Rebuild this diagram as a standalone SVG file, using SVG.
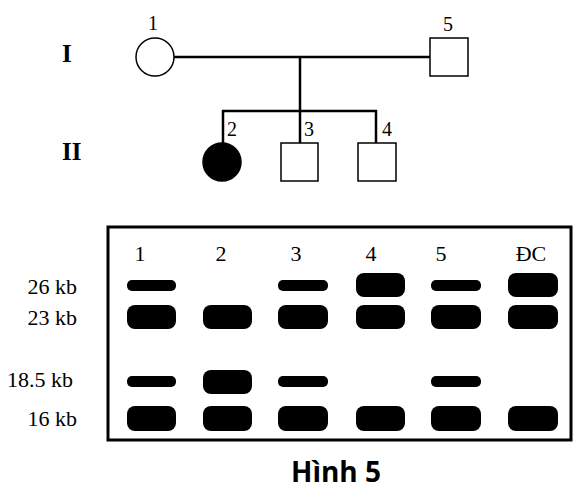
<svg xmlns="http://www.w3.org/2000/svg" width="583" height="495" viewBox="0 0 583 495">
<style>
.ln{stroke:#000;stroke-width:2.5;fill:none}
.sym{stroke:#000;stroke-width:1.5;fill:#fff}
.num{font-family:"Liberation Serif",serif;font-size:20px;fill:#000;text-anchor:middle}
.gen{font-family:"Liberation Serif",serif;font-size:25px;font-weight:bold;fill:#000}
.lbl{font-family:"Liberation Serif",serif;font-size:22px;fill:#000;text-anchor:end}
.lane{font-family:"Liberation Serif",serif;font-size:22px;fill:#000;text-anchor:middle}
.b{fill:#000}
</style>
<rect width="583" height="495" fill="#fff"/>
<text class="gen" x="62" y="62">I</text>
<text class="gen" x="62" y="160">II</text>
<g id="connectors">
<line class="ln" x1="174" y1="57" x2="430" y2="57"/>
<line class="ln" x1="300" y1="57" x2="300" y2="111"/>
<line class="ln" x1="222" y1="111" x2="377" y2="111"/>
<line class="ln" x1="223" y1="110" x2="223" y2="144"/>
<line class="ln" x1="300" y1="110" x2="300" y2="144"/>
<line class="ln" x1="376" y1="110" x2="376" y2="144"/>
</g>
<g id="node-I1"><circle class="sym" cx="155" cy="57" r="19"/><text class="num" x="153" y="30">1</text></g>
<g id="node-I5"><rect class="sym" x="430" y="38" width="38" height="38"/><text class="num" x="448" y="31">5</text></g>
<g id="node-II2"><circle cx="222" cy="162" r="19" fill="#000" stroke="#000" stroke-width="1.5"/><text class="num" x="232" y="136">2</text></g>
<g id="node-II3"><rect class="sym" x="281" y="143" width="37" height="38"/><text class="num" x="309" y="136">3</text></g>
<g id="node-II4"><rect class="sym" x="358" y="143" width="38" height="38"/><text class="num" x="387" y="136">4</text></g>
<g id="gel">
<rect x="108" y="227" width="463" height="213" fill="none" stroke="#000" stroke-width="3"/>
<text class="lane" x="140" y="261">1</text>
<text class="lane" x="221" y="261">2</text>
<text class="lane" x="296" y="261">3</text>
<text class="lane" x="371" y="261">4</text>
<text class="lane" x="441" y="261">5</text>
<text class="lane" x="531" y="261">ĐC</text>
<text class="lbl" x="77" y="294">26 kb</text>
<text class="lbl" x="77" y="325">23 kb</text>
<text class="lbl" x="73" y="387">18.5 kb</text>
<text class="lbl" x="77" y="426">16 kb</text>
<rect class="b" x="127" y="280" width="49" height="11" rx="5"/>
<rect class="b" x="278" y="280" width="50" height="11" rx="5"/>
<rect class="b" x="356" y="273" width="49" height="24" rx="8"/>
<rect class="b" x="431" y="280" width="50" height="11" rx="5"/>
<rect class="b" x="508" y="273" width="50" height="24" rx="8"/>
<rect class="b" x="127" y="305" width="49" height="24" rx="8"/>
<rect class="b" x="203" y="305" width="49" height="24" rx="8"/>
<rect class="b" x="278" y="305" width="50" height="24" rx="8"/>
<rect class="b" x="356" y="305" width="49" height="24" rx="8"/>
<rect class="b" x="431" y="305" width="50" height="24" rx="8"/>
<rect class="b" x="508" y="305" width="50" height="24" rx="8"/>
<rect class="b" x="127" y="376" width="49" height="11" rx="5"/>
<rect class="b" x="203" y="370" width="49" height="24" rx="8"/>
<rect class="b" x="278" y="376" width="50" height="11" rx="5"/>
<rect class="b" x="431" y="376" width="50" height="11" rx="5"/>
<rect class="b" x="127" y="406" width="49" height="25" rx="8"/>
<rect class="b" x="203" y="406" width="49" height="25" rx="8"/>
<rect class="b" x="278" y="406" width="50" height="25" rx="8"/>
<rect class="b" x="356" y="406" width="49" height="25" rx="8"/>
<rect class="b" x="431" y="406" width="50" height="25" rx="8"/>
<rect class="b" x="508" y="406" width="50" height="25" rx="8"/>
</g>
<text x="336" y="482" text-anchor="middle" font-family="'Open Sans',sans-serif" font-weight="bold" font-size="28">Hình 5</text>
</svg>
